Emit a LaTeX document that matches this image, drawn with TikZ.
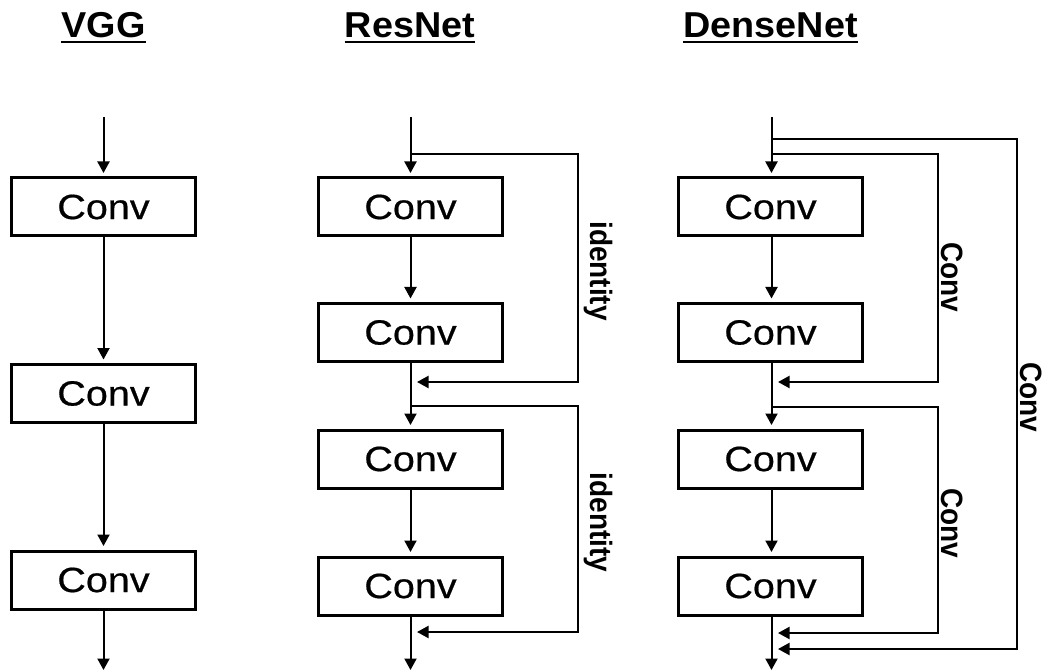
\documentclass[tikz,border=0pt]{standalone}
\usepackage{fontspec}
\setmainfont{Liberation Sans}
\newfontfamily\titlefont[FakeStretch=1.05]{Liberation Sans}
\newfontfamily\boxfont[FakeStretch=1.13,FakeBold=0.6]{Liberation Sans}
\usetikzlibrary{arrows.meta}
\tikzset{
  convbox/.style={draw, line width=3pt, minimum width=184pt, minimum height=58pt,
    inner sep=0pt, font=\boxfont\fontsize{35}{35}\selectfont},
  title/.style={anchor=base, inner sep=0pt, font=\titlefont\bfseries\fontsize{36}{36}\selectfont},
  uline/.style={line width=1.8pt},
  link/.style={line width=2pt},
  arr/.style={link, -{Triangle[length=11.5pt,width=12pt]}},
  into/.style={arr, shorten >=3.5pt},
  sidelabel/.style={rotate=-90, inner sep=0pt, font=\bfseries\fontsize{28}{28}\selectfont}
}
\newcommand{\sidetext}[1]{\scalebox{1}[1.1]{#1}}
\begin{document}
\begin{tikzpicture}[x=1pt,y=-1pt]
\useasboundingbox (0,0) rectangle (1045,671);

% ---------- titles ----------
\node[title] (tv) at (103.5,37.3) {VGG};
\node[title] (tr) at (410,37.3) {ResNet};
\node[title] (td) at (770.5,37.3) {DenseNet};
\foreach \t in {tv,tr,td}
  \draw[uline] ([yshift=-3.8pt]\t.south west) -- ([yshift=-3.8pt]\t.south east);

% ---------- VGG: plain stack ----------
\coordinate (vin) at (103.5,117);
\coordinate (vout) at (103.5,670);
\node[convbox] (v1) at (103.5,207) {Conv};
\node[convbox] (v2) at (103.5,393.5) {Conv};
\node[convbox] (v3) at (103.5,580) {Conv};
\draw[into] (vin) -- (v1.north);
\draw[into] (v1.south) -- (v2.north);
\draw[into] (v2.south) -- (v3.north);
\draw[arr] (v3.south) -- (vout);

% ---------- ResNet: identity shortcuts ----------
\coordinate (rin) at (410.5,117);
\coordinate (rout) at (410.5,670);
\node[convbox] (r1) at (410.5,207) {Conv};
\node[convbox] (r2) at (410.5,332.5) {Conv};
\node[convbox] (r3) at (410.5,459) {Conv};
\node[convbox] (r4) at (410.5,586) {Conv};
\draw[into] (rin) -- (r1.north);
\draw[into] (r1.south) -- (r2.north);
\draw[into] (r2.south) -- (r3.north);
\draw[into] (r3.south) -- (r4.north);
\draw[arr] (r4.south) -- (rout);

\coordinate (rs1) at (410.5,154);
\coordinate (rk1) at (578,154);
\coordinate (rk1b) at (578,382);
\coordinate (rm1) at (417,382);
\draw[arr] (rs1) -- (rk1) -- (rk1b) -- (rm1);
\coordinate (rs2) at (410.5,406);
\coordinate (rk2) at (578,406);
\coordinate (rk2b) at (578,632);
\coordinate (rm2) at (417,632);
\draw[arr] (rs2) -- (rk2) -- (rk2b) -- (rm2);
\node[sidelabel] (ri1) at (598,271) {\sidetext{identity}};
\node[sidelabel] (ri2) at (598,522.5) {\sidetext{identity}};

% ---------- DenseNet: dense connections ----------
\coordinate (din) at (771.5,117);
\coordinate (dout) at (771.5,670);
\node[convbox] (d1) at (770.5,207) {Conv};
\node[convbox] (d2) at (770.5,332.5) {Conv};
\node[convbox] (d3) at (770.5,459) {Conv};
\node[convbox] (d4) at (770.5,586) {Conv};
\draw[into] (din) -- (d1.north -| din);
\draw[into] (d1.south -| din) -- (d2.north -| din);
\draw[into] (d2.south -| din) -- (d3.north -| din);
\draw[into] (d3.south -| din) -- (d4.north -| din);
\draw[arr] (d4.south -| din) -- (dout);

% outer connection spanning the whole block
\coordinate (ds0) at (771.5,139);
\coordinate (dk0) at (1017,139);
\coordinate (dk0b) at (1017,649);
\coordinate (dm0) at (778,649);
\draw[arr] (ds0) -- (dk0) -- (dk0b) -- (dm0);
% inner connections
\coordinate (ds1) at (771.5,154);
\coordinate (dk1) at (938,154);
\coordinate (dk1b) at (938,382);
\coordinate (dm1) at (778,382);
\draw[arr] (ds1) -- (dk1) -- (dk1b) -- (dm1);
\coordinate (ds2) at (771.5,407);
\coordinate (dk2) at (938,407);
\coordinate (dk2b) at (938,633);
\coordinate (dm2) at (778,633);
\draw[arr] (ds2) -- (dk2) -- (dk2b) -- (dm2);
\node[sidelabel] (dc1) at (952.5,277.5) {\sidetext{Conv}};
\node[sidelabel] (dc2) at (952.5,523.3) {\sidetext{Conv}};
\node[sidelabel] (dc0) at (1031,397.5) {\sidetext{Conv}};
\end{tikzpicture}
\end{document}
